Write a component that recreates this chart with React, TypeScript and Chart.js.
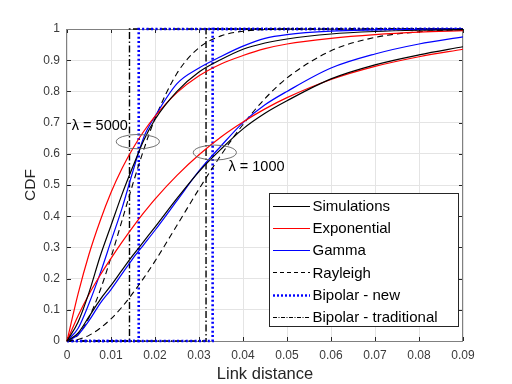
import React, { useEffect, useRef } from "react";
import { Chart, registerables } from "chart.js";
Chart.register(...registerables);

// ---------- data ----------
const xs = [0, 0.0025, 0.005, 0.0075, 0.01, 0.0125, 0.015, 0.0175, 0.02, 0.025, 0.03, 0.035, 0.04, 0.045, 0.05, 0.06, 0.07, 0.08, 0.09];

const sim5000 = [0, 0.06, 0.155, 0.27, 0.37, 0.47, 0.56, 0.645, 0.71, 0.8, 0.862, 0.902, 0.935, 0.955, 0.968, 0.984, 0.992, 0.996, 0.998];
const exp5000 = [0, 0.15, 0.278, 0.384, 0.476, 0.553, 0.618, 0.673, 0.72, 0.796, 0.85, 0.888, 0.915, 0.937, 0.952, 0.97, 0.982, 0.99, 0.995];
const gamma5000 = [0, 0.04, 0.12, 0.215, 0.32, 0.425, 0.545, 0.655, 0.72, 0.825, 0.875, 0.912, 0.945, 0.97, 0.982, 0.993, 0.997, 0.999, 1.0];
const rayleigh5000 = [0, 0.019, 0.075, 0.161, 0.268, 0.386, 0.505, 0.616, 0.713, 0.858, 0.94, 0.978, 0.993, 0.998, 1.0, 1.0, 1.0, 1.0, 1.0];

const sim1000 = [0, 0.025, 0.078, 0.132, 0.178, 0.227, 0.275, 0.32, 0.365, 0.457, 0.543, 0.615, 0.68, 0.73, 0.77, 0.84, 0.885, 0.917, 0.943];
const exp1000 = [0, 0.08, 0.15, 0.21, 0.265, 0.317, 0.366, 0.412, 0.455, 0.531, 0.597, 0.654, 0.702, 0.744, 0.78, 0.838, 0.88, 0.911, 0.935];
const gamma1000 = [0, 0.02, 0.065, 0.12, 0.165, 0.215, 0.265, 0.31, 0.355, 0.45, 0.545, 0.625, 0.7, 0.757, 0.8, 0.875, 0.92, 0.952, 0.975];
const rayleigh1000 = [0, 0.005, 0.018, 0.041, 0.071, 0.109, 0.154, 0.203, 0.256, 0.371, 0.487, 0.596, 0.694, 0.777, 0.843, 0.93, 0.973, 0.991, 0.9975];

const bipolarNewThresholds = [0.0163, 0.0331];
const bipolarTradThresholds = [0.0142, 0.0316];

const xTickLabels = ["0", "0.01", "0.02", "0.03", "0.04", "0.05", "0.06", "0.07", "0.08", "0.09"];
const yTickLabels = ["0", "0.1", "0.2", "0.3", "0.4", "0.5", "0.6", "0.7", "0.8", "0.9", "1"];

const legendLabels = ["Simulations", "Exponential", "Gamma", "Rayleigh", "Bipolar - new", "Bipolar - traditional"];

const annotLabels = ["λ = 5000", "λ = 1000"];
const annotTextX = [0.0011, 0.0367];
const annotTextY = [0.689, 0.559];
const ellipseCx = [0.0161, 0.0336];
const ellipseCy = [0.639, 0.604];
const ellipseRx = [0.0049, 0.0049];
const ellipseRy = [0.023, 0.024];

// ---------- styles ----------
const FONT = "'Liberation Sans', Arial, Helvetica, sans-serif";
const styleSim = { color: "#000000", width: 1.2, dash: [] as number[] };
const styleExp = { color: "#ff0000", width: 1.2, dash: [] as number[] };
const styleGamma = { color: "#0000ff", width: 1.2, dash: [] as number[] };
const styleRay = { color: "#000000", width: 1.1, dash: [6, 4] };
const styleNew = { color: "#0000ff", width: 2.6, dash: [2, 2.4] };
const styleTrad = { color: "#000000", width: 1.4, dash: [7, 2.5, 1.5, 2.5] };
const legendStyles = [styleSim, styleExp, styleGamma, styleRay, styleNew, styleTrad];

const XMAX = 0.09;

function pts(ys: number[]) {
  return xs.map((x, i) => ({ x, y: ys[i] }));
}
function stepPts(t: number) {
  return [
    { x: 0, y: 0 },
    { x: t, y: 0 },
    { x: t, y: 1 },
    { x: XMAX, y: 1 },
  ];
}

function ds(label: string, data: any[], st: any, smooth: boolean) {
  return {
    label,
    data,
    borderColor: st.color,
    backgroundColor: st.color,
    borderWidth: st.width,
    borderDash: st.dash,
    pointRadius: 0,
    fill: false,
    tension: smooth ? 0.4 : 0,
    cubicInterpolationMode: smooth ? "monotone" : "default",
    clip: 4,
  };
}

const overlay = {
  id: "overlay",
  beforeDatasetsDraw(chart: any) {
    const { ctx, chartArea: a } = chart;
    const xS = chart.scales.x;
    const yS = chart.scales.y;
    ctx.save();
    ctx.strokeStyle = "#262626";
    ctx.lineWidth = 1;
    ctx.beginPath();
    for (const l of xTickLabels) {
      const px = Math.round(xS.getPixelForValue(Number(l))) + 0.5;
      ctx.moveTo(px, a.bottom);
      ctx.lineTo(px, a.bottom - 4);
      ctx.moveTo(px, a.top);
      ctx.lineTo(px, a.top + 4);
    }
    for (const l of yTickLabels) {
      const py = Math.round(yS.getPixelForValue(Number(l))) + 0.5;
      ctx.moveTo(a.left, py);
      ctx.lineTo(a.left + 4, py);
      ctx.moveTo(a.right, py);
      ctx.lineTo(a.right - 4, py);
    }
    ctx.stroke();
    ctx.strokeStyle = "#808080";
    ctx.strokeRect(Math.round(a.left) - 0.5, Math.round(a.top) + 0.5, Math.round(a.right - a.left), Math.round(a.bottom - a.top));
    ctx.restore();
  },
  afterDraw(chart: any) {
    const { ctx } = chart;
    const xS = chart.scales.x;
    const yS = chart.scales.y;
    ctx.save();
    // ellipses
    ctx.strokeStyle = "#606060";
    ctx.lineWidth = 0.9;
    for (let i = 0; i < ellipseCx.length; i++) {
      const cx = xS.getPixelForValue(ellipseCx[i]);
      const cy = yS.getPixelForValue(ellipseCy[i]);
      const rx = xS.getPixelForValue(ellipseCx[i] + ellipseRx[i]) - cx;
      const ry = cy - yS.getPixelForValue(ellipseCy[i] + ellipseRy[i]);
      ctx.beginPath();
      ctx.ellipse(cx, cy, rx, ry, 0, 0, Math.PI * 2);
      ctx.stroke();
    }
    // annotation text
    ctx.fillStyle = "#000";
    ctx.font = `14.5px ${FONT}`;
    ctx.textBaseline = "middle";
    ctx.textAlign = "left";
    for (let i = 0; i < annotLabels.length; i++) {
      const px = xS.getPixelForValue(annotTextX[i]);
      const py = yS.getPixelForValue(annotTextY[i]);
      ctx.fillText(annotLabels[i], px, py);
    }
    // legend
    const lx = 269.5, ly = 193.5, lw = 189, lh = 133;
    ctx.fillStyle = "#ffffff";
    ctx.fillRect(lx, ly, lw, lh);
    ctx.strokeStyle = "#262626";
    ctx.lineWidth = 1;
    ctx.setLineDash([]);
    ctx.strokeRect(lx, ly, lw, lh);
    ctx.font = `15px ${FONT}`;
    for (let i = 0; i < legendLabels.length; i++) {
      const yy = 205.5 + i * 22.3;
      const st = legendStyles[i];
      ctx.strokeStyle = st.color;
      ctx.lineWidth = i === 4 ? 2.4 : i === 3 ? 1 : 1.1;
      ctx.setLineDash(i === 3 ? [4, 3] : i === 4 ? [2, 2] : i === 5 ? [4, 1.5, 1, 1.5] : []);
      ctx.beginPath();
      ctx.moveTo(273, Math.round(yy) + 0.5);
      ctx.lineTo(310, Math.round(yy) + 0.5);
      ctx.stroke();
      ctx.setLineDash([]);
      ctx.fillStyle = "#000";
      ctx.fillText(legendLabels[i], 312.5, yy + 1);
    }
    ctx.restore();
  },
};

export default function App() {
  const ref = useRef<HTMLCanvasElement | null>(null);
  useEffect(() => {
    if (!ref.current) return;
    Chart.defaults.font.family = FONT;
    const chart = new Chart(ref.current, {
      type: "line",
      data: {
        datasets: [
          ds("Simulations", pts(sim5000), styleSim, true),
          ds("Simulations", pts(sim1000), styleSim, true),
          ds("Exponential", pts(exp5000), styleExp, true),
          ds("Exponential", pts(exp1000), styleExp, true),
          ds("Gamma", pts(gamma5000), styleGamma, true),
          ds("Gamma", pts(gamma1000), styleGamma, true),
          ds("Rayleigh", pts(rayleigh5000), styleRay, true),
          ds("Rayleigh", pts(rayleigh1000), styleRay, true),
          ds("Bipolar - new", stepPts(bipolarNewThresholds[0]), styleNew, false),
          ds("Bipolar - new", stepPts(bipolarNewThresholds[1]), styleNew, false),
          ds("Bipolar - traditional", stepPts(bipolarTradThresholds[0]), styleTrad, false),
          ds("Bipolar - traditional", stepPts(bipolarTradThresholds[1]), styleTrad, false),
        ] as any,
      },
      options: {
        responsive: false,
        animation: false,
        events: [],
        layout: { padding: { left: 21, top: 29, right: 49, bottom: 0 } },
        plugins: { legend: { display: false }, tooltip: { enabled: false } },
        scales: {
          x: {
            type: "linear",
            min: 0,
            max: XMAX,
            afterFit: (s: any) => {
              s.height = 43;
            },
            afterBuildTicks: (s: any) => {
              s.ticks = xTickLabels.map((l) => ({ value: Number(l) }));
            },
            ticks: {
              autoSkip: false,
              maxRotation: 0,
              padding: 7,
              color: "#3a3a3a",
              font: { size: 12 },
              callback: (v: any) => xTickLabels.find((l) => Math.abs(Number(l) - v) < 1e-9) ?? "",
            },
            grid: { color: "#e4e4e4", drawTicks: false, lineWidth: 1 },
            border: { display: false },
            title: { display: true, text: "Link distance", color: "#262626", font: { size: 16.5 }, padding: { top: 0, bottom: 0 } },
          },
          y: {
            type: "linear",
            min: 0,
            max: 1,
            afterFit: (s: any) => {
              s.width = 46;
            },
            afterBuildTicks: (s: any) => {
              s.ticks = yTickLabels.map((l) => ({ value: Number(l) }));
            },
            ticks: {
              autoSkip: false,
              padding: 7,
              color: "#3a3a3a",
              font: { size: 12 },
              callback: (v: any) => yTickLabels.find((l) => Math.abs(Number(l) - v) < 1e-9) ?? "",
            },
            grid: { color: "#e4e4e4", drawTicks: false, lineWidth: 1 },
            border: { display: false },
            title: { display: true, text: "CDF", color: "#262626", font: { size: 15.5 }, padding: 0 },
          },
        },
      },
      plugins: [overlay],
    } as any);
    return () => chart.destroy();
  }, []);
  return (
    <div style={{ position: "fixed", left: 0, top: 0, width: 512, height: 384, background: "#fff" }}>
      <canvas ref={ref} width={512} height={384} />
    </div>
  );
}
